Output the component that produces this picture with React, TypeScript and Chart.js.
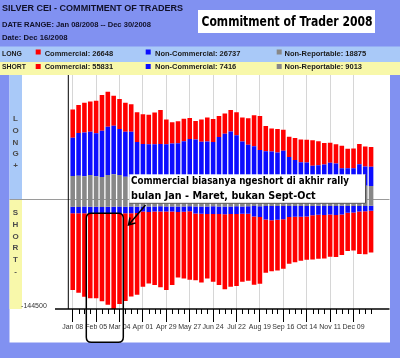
import { useEffect, useRef } from 'react';
import { Chart, registerables } from 'chart.js';
Chart.register(...registerables);

// ---------- data ----------
const weeks = [
  'Jan 08','Jan 15','Jan 22','Jan 29','Feb 05','Feb 12','Feb 19','Feb 26','Mar 04','Mar 11','Mar 18','Mar 25',
  'Apr 01','Apr 08','Apr 15','Apr 22','Apr 29','May 06','May 13','May 20','May 27','Jun 03','Jun 10','Jun 17',
  'Jun 24','Jul 01','Jul 08','Jul 15','Jul 22','Jul 29','Aug 05','Aug 12','Aug 19','Aug 26','Sep 02','Sep 09',
  'Sep 16','Sep 23','Sep 30','Oct 07','Oct 14','Oct 21','Oct 28','Nov 04','Nov 11','Nov 18','Nov 25','Dec 02',
  'Dec 09','Dec 16','Dec 23','Dec 30'
];
const tickLabels = ['Jan 08','Feb 05','Mar 04','Apr 01','Apr 29','May 27','Jun 24','Jul 22','Aug 19','Sep 16','Oct 14','Nov 11','Dec 09'];

const longComm = [37300,36800,38900,39900,42800,46900,46000,39400,39400,38100,
  36000,39000,39000,38600,41700,44700,32500,27900,28900,29600,
  27600,24300,29200,31800,30200,27600,26500,28300,30200,31800,
  35100,40700,44700,33200,30200,30600,27600,26300,28900,30200,
  29800,33400,31500,28400,26300,25400,29700,25400,25900,26648,
  26300,26100];
const longNonComm = [50300,56100,57800,56900,56500,60800,63500,63900,60400,59100,
  59500,46400,44700,44700,44300,46000,46000,48000,48600,50600,
  55200,54500,51900,52300,52600,59100,63700,66400,61800,54500,
  49900,48600,43400,43000,42400,41700,43400,35900,31500,29800,
  29300,25400,25700,27200,29300,28500,21900,23300,23000,26737,
  25400,25200];
const longNonRep = [30200,30600,29800,31500,29800,28900,31500,32500,31500,29300,
  28900,28700,27600,27400,27800,26300,26100,25000,24800,25200,
  23700,23900,23500,23200,22300,22500,22100,22400,22000,21000,
  21300,20800,21100,19700,20000,19600,19900,19500,19800,18400,
  18700,18300,18600,18200,18500,18100,18400,17300,17600,18875,
  17400,17200];
const shortComm = [100800,104300,109600,111700,111400,115200,120500,125700,119200,115200,
  109600,107400,98600,94100,96300,99300,102900,96300,86200,87500,
  89700,87600,90300,84500,89000,93300,98600,95500,94600,89400,
  88000,89700,87500,70000,67000,66800,64800,61200,59900,57800,
  56900,58200,58000,56900,55600,55300,53500,50300,49900,55831,
  56200,54800];
const shortNonComm = [8700,8500,8800,8600,8900,8700,8400,8700,8800,8600,
  8700,8500,6800,7000,6700,6900,6600,6800,7100,6900,
  6700,9200,9600,9900,10100,9800,10300,9700,10000,9600,
  9900,13800,14300,17900,18600,18200,17500,14600,13900,14200,
  13600,12100,11600,11900,11400,11800,11300,8900,8600,7416,
  7200,6600];
const shortNonRep = [10100,10300,9900,10200,10000,10400,10100,10100,9800,10200,
  9900,10000,9700,9900,9800,9600,9900,9700,9800,9900,
  9500,9800,9700,9900,9600,9800,9700,9900,9600,9800,
  9500,9200,9400,9100,9300,9000,9200,9100,9300,9000,
  9200,9100,8900,9200,9000,9100,8900,9000,9100,9013,
  9000,8900];

const yMin = -144500;
const yMax = 163000;

// ---------- style ----------
const BG = '#8191f1';
const LONG_BG = '#a9c9f8';
const SHORT_BG = '#f8f8aa';
const RED = '#ff0000';
const BLUE = '#0c0cff';
const GRAY = '#888888';
const SANS = '"Liberation Sans", Arial, sans-serif';
const COMIC = '"DejaVu Sans", sans-serif';

function fitText(ctx: CanvasRenderingContext2D, text: string, x: number, y: number, w: number, size: number, family: string, color: string) {
  ctx.save();
  ctx.font = `bold ${size}px ${family}`;
  const m = ctx.measureText(text).width;
  ctx.translate(x, y);
  ctx.scale(w / m, 1);
  ctx.fillStyle = color;
  ctx.textBaseline = 'alphabetic';
  ctx.textAlign = 'left';
  ctx.fillText(text, 0, 0);
  ctx.restore();
}

const isMajor = (i: number) => tickLabels.includes(weeks[i]);

const decor = {
  id: 'decor',
  beforeDraw(chart: any) {
    const ctx: CanvasRenderingContext2D = chart.ctx;
    const y = chart.scales.y;
    const zeroY = y.getPixelForValue(0);
    const bottom = chart.chartArea.bottom;
    ctx.save();
    ctx.fillStyle = BG;
    ctx.fillRect(0, 0, 400, 358);
    // header
    fitText(ctx, 'SILVER CEI - COMMITMENT OF TRADERS', 2, 10.8, 181, 9, SANS, '#101028');
    fitText(ctx, 'DATE RANGE: Jan 08/2008 -- Dec 30/2008', 2, 26.7, 149, 8, SANS, '#101028');
    fitText(ctx, 'Date: Dec 16/2008', 2, 40, 65.5, 8, SANS, '#101028');
    // title box
    ctx.fillStyle = '#ffffff';
    ctx.fillRect(198, 10, 177, 23);
    fitText(ctx, 'Commitment of Trader 2008', 201.5, 25.5, 171, 14, COMIC, '#000000');
    // legend rows
    ctx.fillStyle = LONG_BG;
    ctx.fillRect(0, 46.5, 400, 15.5);
    ctx.fillStyle = SHORT_BG;
    ctx.fillRect(0, 62, 400, 13);
    const rows = [
      { name: 'LONG', nw: 20, base: 55.5, sq: 49.5, items: [`Commercial: ${longComm[49]}`, `Non-Commercial: ${longNonComm[49]}`, `Non-Reportable: ${longNonRep[49]}`] },
      { name: 'SHORT', nw: 24, base: 69.4, sq: 64, items: [`Commercial: ${shortComm[49]}`, `Non-Commercial: ${shortNonComm[49]}`, `Non-Reportable: ${shortNonRep[49]}`] },
    ];
    const sqX = [35.7, 145.7, 276.7];
    const txX = [44.7, 155, 284.5];
    const cols = [RED, BLUE, GRAY];
    rows.forEach((r) => {
      fitText(ctx, r.name, 2, r.base, r.nw, 7.5, SANS, '#1a1a1a');
      r.items.forEach((t, k) => {
        ctx.fillStyle = cols[k];
        ctx.fillRect(sqX[k], r.sq, 5, 5);
        ctx.font = `bold 7.5px ${SANS}`;
        ctx.fillStyle = '#1a1a1a';
        ctx.textBaseline = 'alphabetic';
        ctx.textAlign = 'left';
        ctx.fillText(t, txX[k], r.base);
      });
    });
    // white panel
    ctx.fillStyle = '#ffffff';
    ctx.fillRect(9.5, 75, 380.5, 267.5);
    ctx.fillStyle = LONG_BG;
    ctx.fillRect(9.5, 75, 12.5, zeroY - 75);
    ctx.fillStyle = SHORT_BG;
    ctx.fillRect(9.5, zeroY, 12.5, bottom - zeroY);
    // vertical words
    ctx.font = `bold 8px ${SANS}`;
    ctx.fillStyle = '#4a4a4a';
    ctx.textAlign = 'center';
    ctx.textBaseline = 'middle';
    const lw = ['L', 'O', 'N', 'G', '+'];
    lw.forEach((c, k) => ctx.fillText(c, 15.5, 118.7 + k * 11.8));
    const sw = ['S', 'H', 'O', 'R', 'T', '-'];
    sw.forEach((c, k) => ctx.fillText(c, 15.5, 212.8 + k * 11.8));
    ctx.restore();
  },
  beforeDatasetsDraw(chart: any) {
    const ctx: CanvasRenderingContext2D = chart.ctx;
    const zeroY = Math.round(chart.scales.y.getPixelForValue(0)) + 0.5;
    ctx.save();
    ctx.strokeStyle = '#9a9a9a';
    ctx.lineWidth = 1;
    ctx.beginPath();
    ctx.moveTo(9.5, zeroY);
    ctx.lineTo(389.5, zeroY);
    ctx.stroke();
    ctx.restore();
  },
  afterDraw(chart: any) {
    const ctx: CanvasRenderingContext2D = chart.ctx;
    const { top, bottom, left } = chart.chartArea;
    const xs = chart.scales.x;
    ctx.save();
    // axes
    ctx.strokeStyle = '#000';
    ctx.lineWidth = 1;
    ctx.beginPath();
    ctx.moveTo(left - 1.5, top);
    ctx.lineTo(left - 1.5, bottom);
    ctx.stroke();
    ctx.lineWidth = 1.5;
    ctx.beginPath();
    ctx.moveTo(55, bottom);
    ctx.lineTo(389.5, bottom);
    ctx.stroke();
    ctx.lineWidth = 1;
    weeks.forEach((w, i) => {
      if (isMajor(i)) return;
      const px = Math.round(xs.getPixelForValue(i)) + 0.5;
      ctx.beginPath();
      ctx.moveTo(px, bottom);
      ctx.lineTo(px, bottom + 5);
      ctx.stroke();
    });
    // annotation box
    ctx.fillStyle = '#ffffff';
    ctx.fillRect(129.3, 174.3, 236.4, 29);
    ctx.strokeStyle = '#555';
    ctx.beginPath();
    ctx.moveTo(365.5, 174.3);
    ctx.lineTo(365.5, 203.3);
    ctx.lineTo(129.3, 203.3);
    ctx.stroke();
    fitText(ctx, 'Commercial biasanya ngeshort di akhir rally', 131, 184.3, 218, 10, COMIC, '#000');
    fitText(ctx, 'bulan Jan - Maret, bukan Sept-Oct', 131, 199.3, 184.7, 10, COMIC, '#000');
    // arrow
    ctx.strokeStyle = '#000';
    ctx.lineWidth = 1.5;
    ctx.beginPath();
    ctx.moveTo(145.5, 205);
    ctx.lineTo(128.5, 225);
    ctx.moveTo(130, 217.5);
    ctx.lineTo(128.5, 225);
    ctx.lineTo(135.5, 223);
    ctx.stroke();
    // rounded rect
    const rx = 86.3, ry = 213.3, rw = 37, rh = 129, r = 5;
    ctx.beginPath();
    ctx.moveTo(rx + r, ry);
    ctx.lineTo(rx + rw - r, ry);
    ctx.quadraticCurveTo(rx + rw, ry, rx + rw, ry + r);
    ctx.lineTo(rx + rw, ry + rh - r);
    ctx.quadraticCurveTo(rx + rw, ry + rh, rx + rw - r, ry + rh);
    ctx.lineTo(rx + r, ry + rh);
    ctx.quadraticCurveTo(rx, ry + rh, rx, ry + rh - r);
    ctx.lineTo(rx, ry + r);
    ctx.quadraticCurveTo(rx, ry, rx + r, ry);
    ctx.stroke();
    ctx.restore();
  },
};

export default function App() {
  const ref = useRef<HTMLCanvasElement>(null);
  useEffect(() => {
    const neg = (a: number[]) => a.map((v) => -v);
    const mk = (label: string, data: number[], color: string) => ({
      label,
      data,
      backgroundColor: color,
      borderWidth: 0,
      categoryPercentage: 1,
      barPercentage: 0.78,
    });
    const chart = new Chart(ref.current as HTMLCanvasElement, {
      type: 'bar',
      data: {
        labels: weeks,
        datasets: [
          mk('Long Non-Reportable', longNonRep, GRAY),
          mk('Long Non-Commercial', longNonComm, BLUE),
          mk('Long Commercial', longComm, RED),
          mk('Short Non-Reportable', neg(shortNonRep), GRAY),
          mk('Short Non-Commercial', neg(shortNonComm), BLUE),
          mk('Short Commercial', neg(shortComm), RED),
        ],
      },
      options: {
        responsive: false,
        animation: false,
        devicePixelRatio: 1,
        layout: { padding: { top: 75, right: 26, bottom: 0, left: 0 } },
        plugins: { legend: { display: false }, tooltip: { enabled: false } },
        scales: {
          x: {
            stacked: true,
            offset: true,
            grid: {
              offset: false,
              color: (c: any) => (isMajor(c.index) ? '#d6d6d6' : 'rgba(0,0,0,0)'),
              tickColor: (c: any) => (isMajor(c.index) ? '#000' : 'rgba(0,0,0,0)'),
              tickLength: 13,
              lineWidth: 1,
            },
            border: { display: false },
            ticks: {
              autoSkip: false,
              maxRotation: 0,
              minRotation: 0,
              padding: 1,
              color: '#333',
              font: { size: 7, family: SANS },
              callback: (_v: any, i: number) => (isMajor(i) ? weeks[i] : ''),
            },
            afterFit: (s: any) => { s.height = 49; },
          },
          y: {
            stacked: true,
            min: yMin,
            max: yMax,
            grid: { display: false },
            border: { display: false },
            ticks: {
              padding: 15,
              labelOffset: -3,
              color: '#333',
              font: { size: 7, family: SANS },
              callback: (v: any) => String(v),
            },
            afterBuildTicks: (s: any) => { s.ticks = [{ value: yMin }]; },
            afterFit: (s: any) => { s.width = 69.8; },
          },
        },
      } as any,
      plugins: [decor],
    });
    return () => chart.destroy();
  }, []);
  return (
    <div style={{ position: 'absolute', left: 0, top: 0, width: 400, height: 358 }}>
      <canvas ref={ref} width={400} height={358} style={{ display: 'block' }} />
    </div>
  );
}
